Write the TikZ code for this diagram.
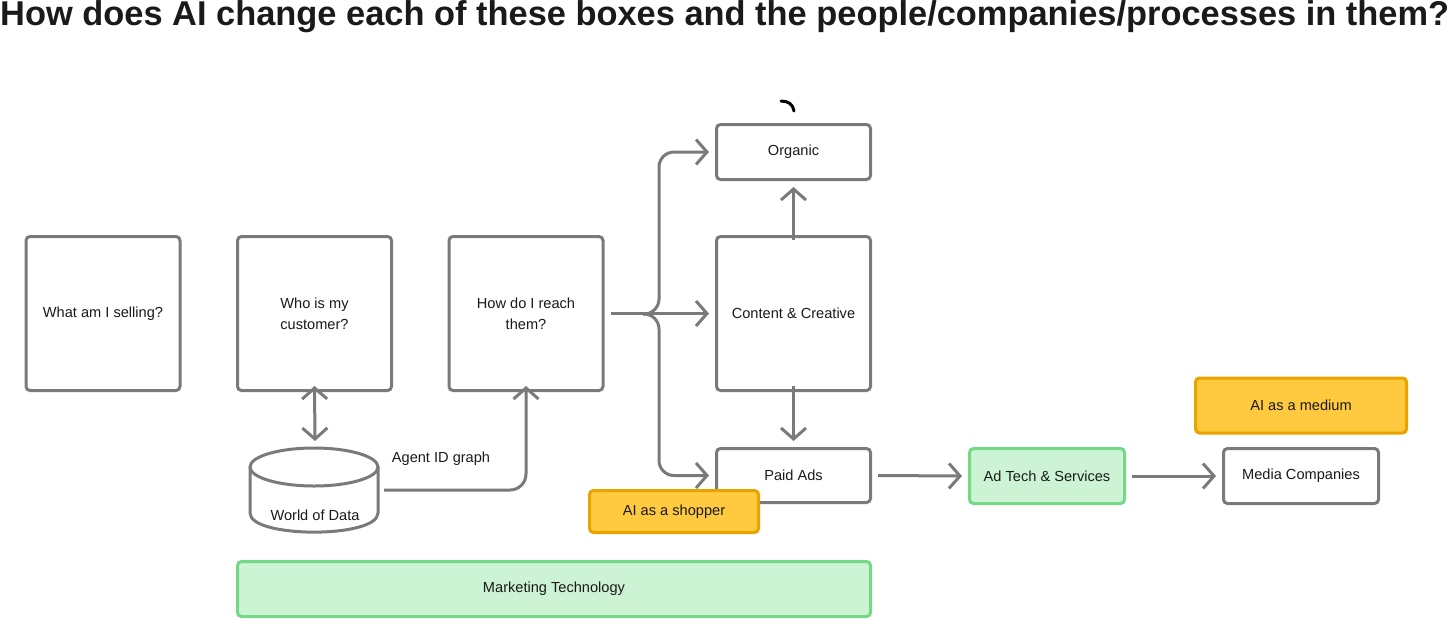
\documentclass[tikz,border=0pt]{standalone}
\usepackage{fontspec}
\setmainfont{Liberation Sans}
\usetikzlibrary{arrows.meta}
\definecolor{lgray}{HTML}{7A7A7A}
\definecolor{txt}{HTML}{1A1A1A}
\definecolor{yfill}{HTML}{FFC940}
\definecolor{ydraw}{HTML}{E9A400}
\definecolor{gfill}{HTML}{CDF3D5}
\definecolor{gdraw}{HTML}{74D884}
\tikzset{
  box/.style={draw=lgray, line width=3pt, rounded corners=4pt, fill=white, inner sep=0pt, align=center, text=txt, font=\fontsize{14.6}{21}\selectfont},
  yellowbox/.style={box, draw=ydraw, fill=yfill},
  greenbox/.style={box, draw=gdraw, fill=gfill},
  conn/.style={draw=lgray, line width=3pt},
  arr/.style={conn, -{Straight Barb[length=11pt,width=25pt]}},
  darr/.style={conn, {Straight Barb[length=11pt,width=25pt]}-{Straight Barb[length=11pt,width=25pt]}},
  plain/.style={inner sep=0pt, text=txt, font=\fontsize{14.6}{17}\selectfont},
}
\begin{document}
\begin{tikzpicture}[x=1pt,y=-1pt]
\useasboundingbox (0,0) rectangle (1456,619);
\node[anchor=west, font=\bfseries\fontsize{34.4}{38}\selectfont, text=txt, inner sep=0pt] (title) at (0,17) {How does AI change each of these boxes and the people/companies/processes in them?};

\node[box, minimum width=154, minimum height=154] (sell) at (103,313.5) {What am I selling?};
\node[box, minimum width=154, minimum height=154] (who) at (314.5,313.5) {Who is my\\customer?};
\node[box, minimum width=154, minimum height=154] (how) at (526,313.5) {How do I reach\\them?};
\node[box, minimum width=154, minimum height=55] (organic) at (793.5,152) {Organic};
\node[box, minimum width=154, minimum height=154] (content) at (793.5,313.5) {Content \& Creative};
\node[box, minimum width=154, minimum height=54] (paid) at (793.5,475.5) {Paid Ads};
\node[greenbox, minimum width=155, minimum height=55] (adtech) at (1047,476) {Ad Tech \& Services};
\node[box, minimum width=155, minimum height=55] (media) at (1301,476) {Media Companies};
\node[yellowbox, minimum width=211, minimum height=55] (medium) at (1301,405.5) {AI as a medium};
\node[greenbox, minimum width=633, minimum height=55] (martech) at (554,589) {Marketing Technology};

% World of Data cylinder
\draw[draw=lgray, line width=3pt, fill=white] (250,467) -- (250,513) .. controls (250,538.5) and (378,538.5) .. (378,513) -- (378,467);
\draw[draw=lgray, line width=3pt, fill=white] (314,467) ellipse[x radius=64, y radius=19];
\node[plain] (data) at (315,515) {World of Data};
\coordinate (dataright) at (384,490);
\coordinate (datatop) at (315,441);

% connectors
\draw[darr] ([yshift=6]who.south) -- (datatop);
\draw[arr, rounded corners=16pt] (dataright) -| ([yshift=6]how.south);
\node[plain] (agent) at (441,459) {Agent ID graph};

\draw[arr] ([xshift=6]how.east) -- ([xshift=-6]content.west);
\coordinate (junc) at (643,314);
\draw[arr, rounded corners=15pt] (junc) -| (659,200) |- ([xshift=-6]organic.west);
\draw[arr, rounded corners=15pt] (junc) -| (659,430) |- ([xshift=-6]paid.west);

\draw[arr] ([yshift=-5]content.north) -- ([yshift=-6]organic.south);
\draw[arr] ([yshift=6]content.south) -- ([yshift=6]paid.north);
\draw[arr] ([xshift=6]paid.east) -- ([xshift=-6]adtech.west);
\draw[arr] ([xshift=6]adtech.east) -- ([xshift=-6]media.west);

\node[yellowbox, minimum width=169, minimum height=42] (shopper) at (674,511.5) {AI as a shopper};

% small black mark
\draw[black, line width=3pt, line cap=round] (781,101) .. controls (788,101) and (793,104) .. (794,111);
\end{tikzpicture}
\end{document}
